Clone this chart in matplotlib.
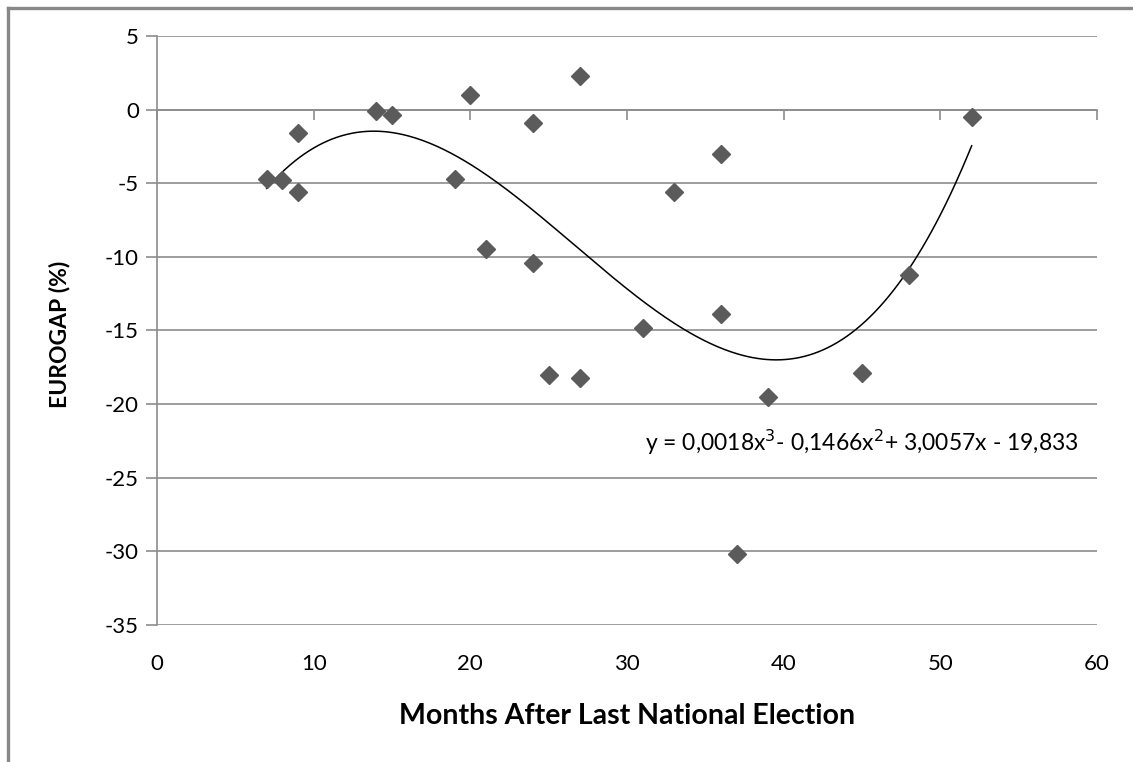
import numpy as np
import matplotlib.pyplot as plt
from matplotlib.lines import Line2D

plt.rcParams['font.family'] = ['Lato', 'DejaVu Sans']
plt.rcParams['axes.unicode_minus'] = False

# months after the last national election vs. EUROGAP
months = [7, 8, 9, 9, 14, 15, 19, 20, 21, 24, 24, 25, 27, 27,
          31, 33, 36, 36, 37, 39, 45, 48, 52]
eurogap = [-4.7, -4.8, -1.6, -5.6, -0.1, -0.4, -4.7, 1.0, -9.5, -0.9, -10.4, -18.0, 2.3, -18.2,
           -14.8, -5.6, -3.0, -13.9, -30.2, -19.5, -17.9, -11.2, -0.5]

x_ticks = [0, 10, 20, 30, 40, 50, 60]
y_ticks = [5, 0, -5, -10, -15, -20, -25, -30, -35]
equation = 'y = 0,0018x$^3$- 0,1466x$^2$+ 3,0057x - 19,833'

fig = plt.figure(figsize=(11.33, 7.62), dpi=100)
ax = fig.add_axes([0.1386, 0.1798, 0.8296, 0.773])

grid_col = '#8c8c8c'
ax.set_xlim(0, 60)
ax.set_ylim(-35, 5)
ax.set_yticks(y_ticks)
ax.set_xticks(x_ticks)
ax.yaxis.grid(True, color=grid_col, linewidth=1.2)
ax.set_axisbelow(True)

for side in ['top', 'right']:
    ax.spines[side].set_visible(False)
ax.spines['left'].set_color(grid_col)
ax.spines['left'].set_linewidth(1.2)
ax.spines['bottom'].set_position(('data', 0))
ax.spines['bottom'].set_color(grid_col)
ax.spines['bottom'].set_linewidth(1.2)

ax.tick_params(axis='y', direction='out', length=8, width=1.2, color=grid_col,
               labelsize=16, pad=5)
ax.tick_params(axis='x', direction='out', length=7, width=1.2, color=grid_col,
               labelbottom=False)

# x labels sit at the bottom of the plot, away from the axis line at y=0
sec = ax.secondary_xaxis('bottom')
sec.set_xticks(x_ticks)
sec.spines['bottom'].set_visible(False)
sec.tick_params(axis='x', length=0, labelsize=16, pad=21)
sec.set_xlabel('Months After Last National Election', fontsize=20.5,
               fontweight='bold', labelpad=21)

ax.plot(months, eurogap, linestyle='none', marker='D', markersize=9.5,
        color='#5b5b5b', zorder=3)

# cubic trendline
coef = np.polyfit(months, eurogap, 3)
xs = np.linspace(min(months), max(months), 300)
ax.plot(xs, np.polyval(coef, xs), color='black', linewidth=1.1, zorder=2)

ax.text(45.0, -22.6, equation, fontsize=16.5, ha='center', va='center')

ax.set_ylabel('EUROGAP (%)', fontsize=16.5, fontweight='bold')
ax.yaxis.set_label_coords(-0.0926, 0.494)

# chart area frame
fig.add_artist(Line2D([0.0068, 1.0], [0.9895, 0.9895], color='#888888', linewidth=2.4))
fig.add_artist(Line2D([0.0068, 0.0068], [0.0, 0.9895], color='#888888', linewidth=2.4))

fig.savefig('out.png', dpi=100)
